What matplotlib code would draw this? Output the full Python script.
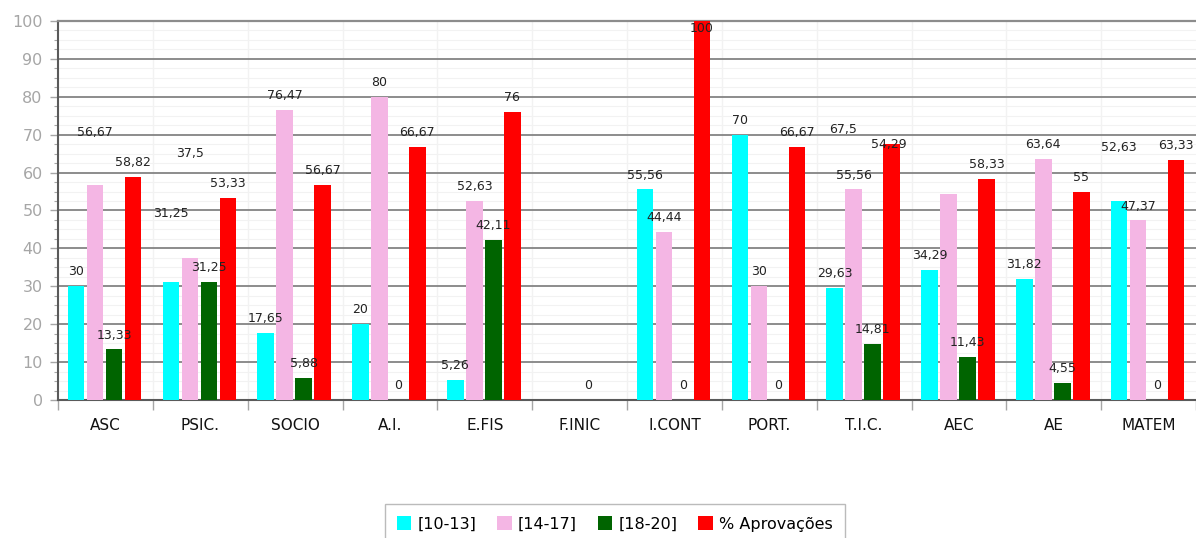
import numpy as np
import matplotlib.pyplot as plt
from matplotlib.ticker import MultipleLocator, FixedLocator

categories = ['ASC', 'PSIC.', 'SOCIO', 'A.I.', 'E.FIS', 'F.INIC',
              'I.CONT', 'PORT.', 'T.I.C.', 'AEC', 'AE', 'MATEM']
series_names = ['[10-13]', '[14-17]', '[18-20]', '% Aprovações']
grade_10_13 = [30, 31.25, 17.65, 20, 5.26, 0, 55.56, 70, 29.63, 34.29, 31.82, 52.63]
grade_14_17 = [56.67, 37.5, 76.47, 80, 52.63, 0, 44.44, 30, 55.56, 54.29, 63.64, 47.37]
grade_18_20 = [13.33, 31.25, 5.88, 0, 42.11, 0, 0, 0, 14.81, 11.43, 4.55, 0]
approval_pct = [58.82, 53.33, 56.67, 66.67, 76, 0, 100, 66.67, 67.5, 58.33, 55, 63.33]

COLORS = ['#00ffff', '#f4b6e4', '#006400', '#ff0000']
GRID_DARK = '#8c8c8c'
GRID_FAINT = '#f2f2f2'
AXIS = '#5a5a5a'
TICK_GRAY = '#a6a6a6'

# label nudges (category index, series index) -> (dx, dy) in data units,
# mimicking where the original charting tool pushed overlapping labels
LABEL_NUDGE = {
    (0, 1): (0.0, 10.0),
    (1, 0): (0.0, 14.2),
    (1, 1): (0.0, 23.7),
    (6, 3): (0.0, -5.8),
    (8, 3): (-0.51, 0.0),
    (9, 1): (-0.63, 9.2),
    (11, 0): (0.0, 10.2),
}

data = [grade_10_13, grade_14_17, grade_18_20, approval_pct]

fig = plt.figure(figsize=(11.96, 5.38), dpi=100)
ax = fig.add_axes([0.0485, 0.2565, 0.9515, 0.7045])

x = np.arange(len(categories))
slot = 0.2
width = 0.174
for k, (vals, color, name) in enumerate(zip(data, COLORS, series_names)):
    xpos = x + (k - 1.5) * slot - 0.01
    ax.bar(xpos, vals, width=width, color=color, label=name, zorder=3)
    for i, v in enumerate(vals):
        if v == 0 and k != 2:
            continue
        dx, dy = LABEL_NUDGE.get((i, k), (0.0, 0.0))
        txt = f'{v:g}'.replace('.', ',')
        ax.text(xpos[i] + dx, v + 3.8 + dy, txt, ha='center', va='center',
                fontsize=9, color='#222222', zorder=5)

ax.set_xlim(-0.5, len(categories) - 0.5)
ax.set_ylim(0, 100)

# y axis
ax.yaxis.set_major_locator(MultipleLocator(10))
ax.yaxis.set_minor_locator(MultipleLocator(2.5))
ax.tick_params(axis='y', which='major', length=6, width=1, color=TICK_GRAY,
               labelcolor=TICK_GRAY, labelsize=11.5, pad=5)
ax.tick_params(axis='y', which='minor', length=3, width=0.8, color=TICK_GRAY)
ax.grid(axis='y', which='major', color=GRID_DARK, linewidth=1.4, zorder=1)
ax.grid(axis='y', which='minor', color=GRID_FAINT, linewidth=0.8, zorder=0)

# x axis: ticks at category boundaries, labels centred
ax.xaxis.set_major_locator(FixedLocator(np.arange(-0.5, len(categories), 1)))
ax.set_xticklabels([])
ax.xaxis.set_minor_locator(FixedLocator(x))
ax.set_xticklabels(categories, minor=True)
ax.tick_params(axis='x', which='major', length=7, width=1, color=TICK_GRAY)
ax.tick_params(axis='x', which='minor', length=0, labelsize=11,
               labelcolor='#111111', pad=13)
for b in np.arange(0.5, len(categories) - 0.5, 1):
    ax.axvline(b, color=GRID_FAINT, linewidth=1, zorder=0)

for spine in ('left', 'bottom'):
    ax.spines[spine].set_color(AXIS)
    ax.spines[spine].set_linewidth(1.5)
ax.spines['top'].set_color(GRID_DARK)
ax.spines['top'].set_linewidth(1.6)
ax.spines['right'].set_visible(False)

leg = fig.legend(loc='upper center', bbox_to_anchor=(0.514, 1 - 504 / 538),
                 ncol=4, fontsize=11.5, frameon=True, fancybox=False,
                 handlelength=0.9, handleheight=1.0, handletextpad=0.4,
                 columnspacing=1.3, borderpad=0.75, borderaxespad=0.0,
                 edgecolor='#aaaaaa')
leg.get_frame().set_linewidth(1.0)

fig.savefig('out.png', dpi=100)
